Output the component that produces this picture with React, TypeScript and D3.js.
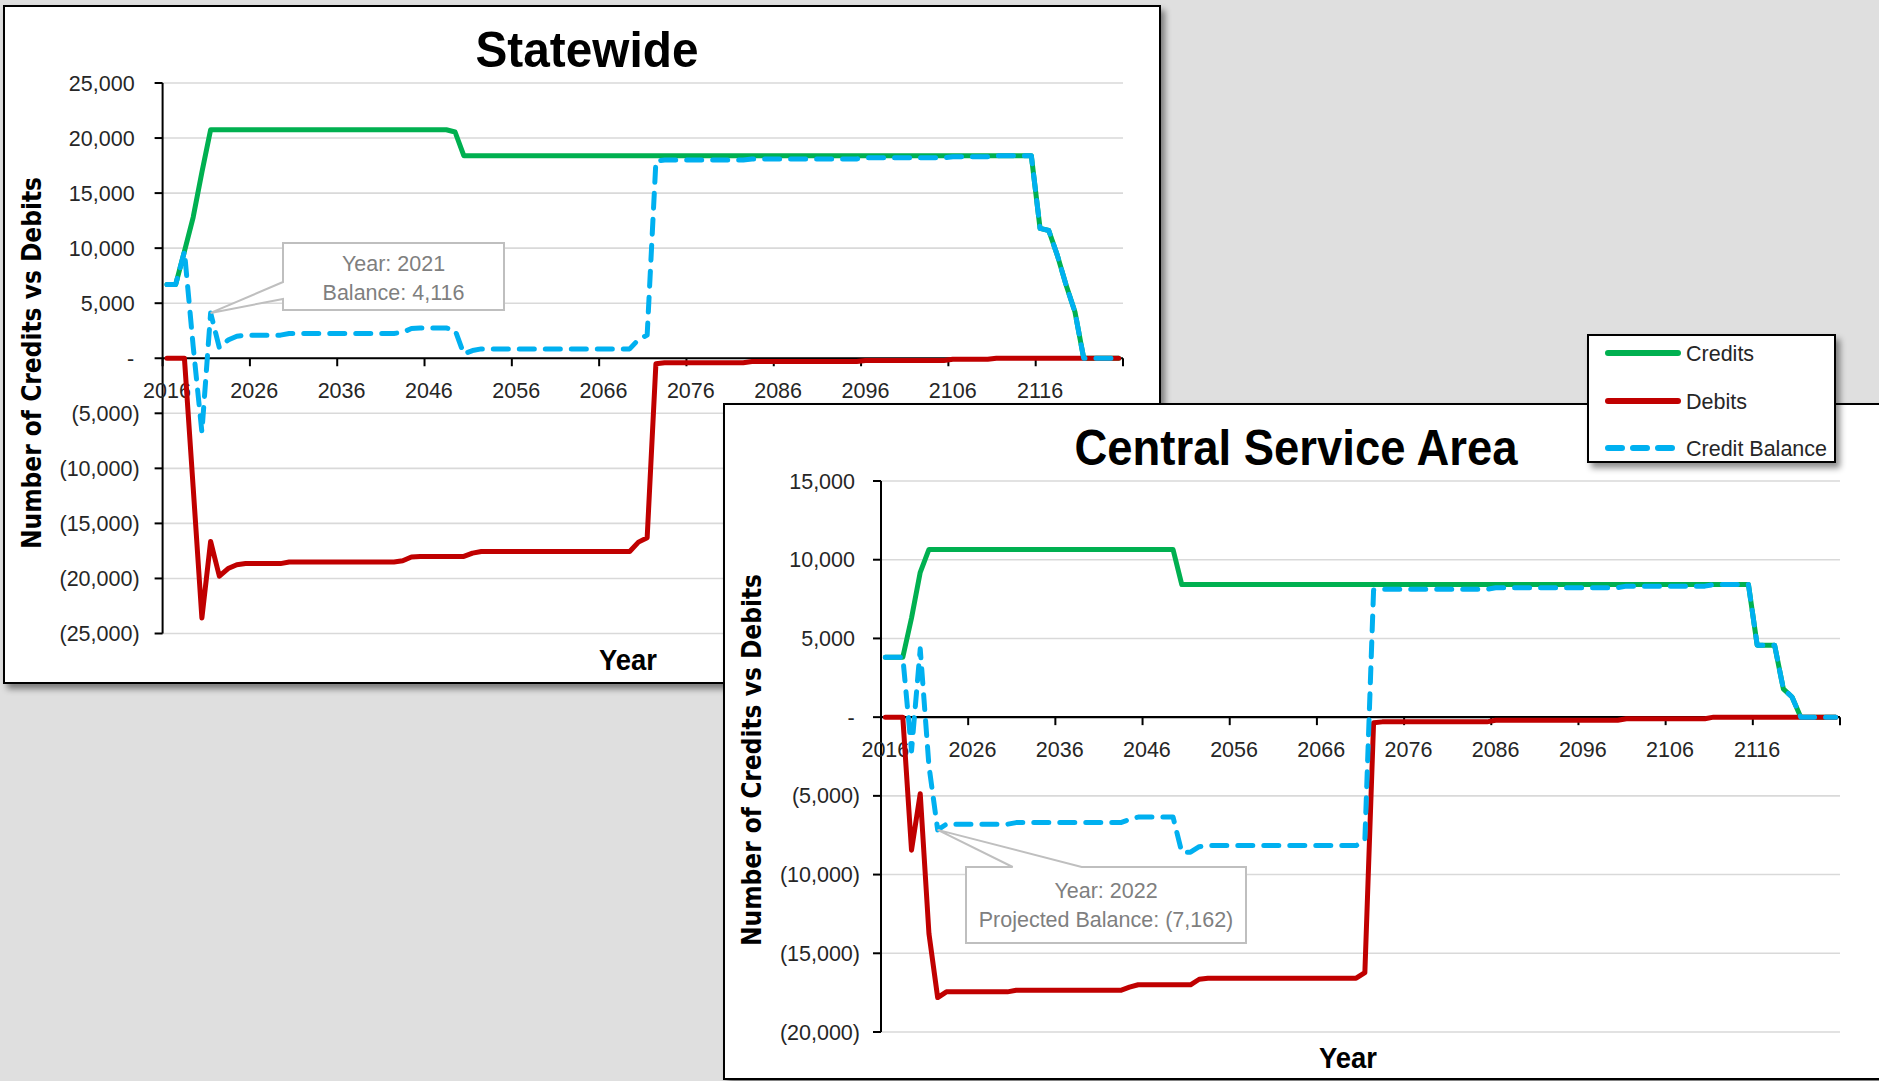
import React from 'react';
import * as d3 from 'd3';

// ---------- data ----------
const FIRST_YEAR = 2016;
const LAST_YEAR = 2125;
const YEARS = d3.range(FIRST_YEAR, LAST_YEAR + 1);
const X_TICK_YEARS = [2016, 2026, 2036, 2046, 2056, 2066, 2076, 2086, 2096, 2106, 2116];
const SW_Y_TICKS = [25000, 20000, 15000, 10000, 5000, 0, -5000, -10000, -15000, -20000, -25000];
const CS_Y_TICKS = [15000, 10000, 5000, 0, -5000, -10000, -15000, -20000];
const SERIES_NAMES = ['Credits', 'Debits', 'Credit Balance'];
const SERIES_COLORS = ['#00b050', '#c00000', '#00b0f0'];

// Statewide
const SW_CREDITS = [
  6700, 6700, 9700, 12800, 16900, 20750, 20750, 20750, 20750, 20750,
  20750, 20750, 20750, 20750, 20750, 20750, 20750, 20750, 20750, 20750,
  20750, 20750, 20750, 20750, 20750, 20750, 20750, 20750, 20750, 20750,
  20750, 20750, 20750, 20550, 18400, 18400, 18400, 18400, 18400, 18400,
  18400, 18400, 18400, 18400, 18400, 18400, 18400, 18400, 18400, 18400,
  18400, 18400, 18400, 18400, 18400, 18400, 18400, 18400, 18400, 18400,
  18400, 18400, 18400, 18400, 18400, 18400, 18400, 18400, 18400, 18400,
  18400, 18400, 18400, 18400, 18400, 18400, 18400, 18400, 18400, 18400,
  18400, 18400, 18400, 18400, 18400, 18400, 18400, 18400, 18400, 18400,
  18400, 18400, 18400, 18400, 18400, 18400, 18400, 18400, 18400, 18400,
  11800, 11600, 9300, 6600, 4200, 0, 0, 0, 0, 0,
];
const SW_DEBITS = [
  0, 0, 0, -11700, -23600, -16634, -19800, -19100, -18750, -18650,
  -18650, -18650, -18650, -18650, -18500, -18500, -18500, -18500, -18500, -18500,
  -18500, -18500, -18500, -18500, -18500, -18500, -18500, -18400, -18050, -18000,
  -18000, -18000, -18000, -18000, -18000, -17700, -17550, -17550, -17550, -17550,
  -17550, -17550, -17550, -17550, -17550, -17550, -17550, -17550, -17550, -17550,
  -17550, -17550, -17550, -17550, -16700, -16300, -500, -400, -400, -400,
  -400, -400, -400, -400, -400, -400, -400, -300, -300, -300,
  -300, -300, -300, -300, -300, -300, -300, -300, -300, -300,
  -200, -200, -200, -200, -200, -200, -200, -200, -200, -200,
  -100, -100, -100, -100, -100, 0, 0, 0, 0, 0,
  0, 0, 0, 0, 0, 0, 0, 0, 0, 0,
];
const SW_BALANCE = [
  6700, 6700, 9700, 1100, -6700, 4116, 950, 1650, 2000, 2100,
  2100, 2100, 2100, 2100, 2250, 2250, 2250, 2250, 2250, 2250,
  2250, 2250, 2250, 2250, 2250, 2250, 2250, 2350, 2700, 2750,
  2750, 2750, 2750, 2550, 400, 700, 850, 850, 850, 850,
  850, 850, 850, 850, 850, 850, 850, 850, 850, 850,
  850, 850, 850, 850, 1700, 2100, 17900, 18000, 18000, 18000,
  18000, 18000, 18000, 18000, 18000, 18000, 18000, 18100, 18100, 18100,
  18100, 18100, 18100, 18100, 18100, 18100, 18100, 18100, 18100, 18100,
  18200, 18200, 18200, 18200, 18200, 18200, 18200, 18200, 18200, 18200,
  18300, 18300, 18300, 18300, 18300, 18400, 18400, 18400, 18400, 18400,
  11800, 11600, 9300, 6600, 4200, 0, 0, 0, 0, 0,
];

// Central Service Area
const CS_CREDITS = [
  3800, 3800, 3800, 6300, 9200, 10650, 10650, 10650, 10650, 10650,
  10650, 10650, 10650, 10650, 10650, 10650, 10650, 10650, 10650, 10650,
  10650, 10650, 10650, 10650, 10650, 10650, 10650, 10650, 10650, 10650,
  10650, 10650, 10650, 10650, 8420, 8420, 8420, 8420, 8420, 8420,
  8420, 8420, 8420, 8420, 8420, 8420, 8420, 8420, 8420, 8420,
  8420, 8420, 8420, 8420, 8420, 8420, 8420, 8420, 8420, 8420,
  8420, 8420, 8420, 8420, 8420, 8420, 8420, 8420, 8420, 8420,
  8420, 8420, 8420, 8420, 8420, 8420, 8420, 8420, 8420, 8420,
  8420, 8420, 8420, 8420, 8420, 8420, 8420, 8420, 8420, 8420,
  8420, 8420, 8420, 8420, 8420, 8420, 8420, 8420, 8420, 8420,
  4570, 4570, 4570, 1800, 1280, 0, 0, 0, 0, 0,
];
const CS_DEBITS = [
  0, 0, 0, -8450, -4860, -13750, -17812, -17450, -17450, -17450,
  -17450, -17450, -17450, -17450, -17450, -17350, -17350, -17350, -17350, -17350,
  -17350, -17350, -17350, -17350, -17350, -17350, -17350, -17350, -17150, -17000,
  -17000, -17000, -17000, -17000, -17000, -17000, -16650, -16580, -16580, -16580,
  -16580, -16580, -16580, -16580, -16580, -16580, -16580, -16580, -16580, -16580,
  -16580, -16580, -16580, -16580, -16580, -16230, -350, -300, -300, -300,
  -300, -300, -300, -300, -300, -300, -300, -300, -300, -300,
  -200, -200, -200, -200, -200, -200, -200, -200, -200, -200,
  -200, -200, -200, -200, -200, -100, -100, -100, -100, -100,
  -100, -100, -100, -100, -100, 0, 0, 0, 0, 0,
  0, 0, 0, 0, 0, 0, 0, 0, 0, 0,
];
const CS_BALANCE = [
  3800, 3800, 3800, -2150, 4340, -3100, -7162, -6800, -6800, -6800,
  -6800, -6800, -6800, -6800, -6800, -6700, -6700, -6700, -6700, -6700,
  -6700, -6700, -6700, -6700, -6700, -6700, -6700, -6700, -6500, -6350,
  -6350, -6350, -6350, -6350, -8580, -8580, -8230, -8160, -8160, -8160,
  -8160, -8160, -8160, -8160, -8160, -8160, -8160, -8160, -8160, -8160,
  -8160, -8160, -8160, -8160, -8160, -7810, 8070, 8120, 8120, 8120,
  8120, 8120, 8120, 8120, 8120, 8120, 8120, 8120, 8120, 8120,
  8220, 8220, 8220, 8220, 8220, 8220, 8220, 8220, 8220, 8220,
  8220, 8220, 8220, 8220, 8220, 8320, 8320, 8320, 8320, 8320,
  8320, 8320, 8320, 8320, 8320, 8420, 8420, 8420, 8420, 8420,
  4570, 4570, 4570, 1800, 1280, 0, 0, 0, 0, 0,
];

// ---------- helpers ----------
const TICK_FONT = "'Liberation Sans', Arial, sans-serif";
const TITLE_FONT = "'Liberation Sans', Arial, sans-serif";
const YTITLE_FONT = "'DejaVu Sans', Verdana, sans-serif";

function fmtY(v: number): string {
  if (v === 0) return '-';
  const s = d3.format(',')(Math.abs(v));
  return v < 0 ? `(${s})` : s;
}

type Callout = {
  year: number;
  value: number;
  lines: string[];
  box: { x: number; y: number; w: number; h: number };
  wedge: 'left' | 'top';
  wedgeA: number;
  wedgeB: number;
  lineY: number[];
};

type Cfg = {
  panel: { x: number; y: number; w: number; h: number };
  x0: number;
  x1: number;
  yTop: number;
  yBot: number;
  yDomain: [number, number];
  yTicks: number[];
  title: string;
  titleX: number;
  titleY: number;
  titleLen: number;
  yTitleX: number;
  yTitleY: number;
  xTitleX: number;
  xTitleY: number;
  posOff: number;
  negOff: number;
  dashOff: number;
  series: number[][];
  callout: Callout;
};

function Chart({ cfg }: { cfg: Cfg }) {
  const x = d3.scaleLinear().domain([FIRST_YEAR - 0.5, LAST_YEAR + 0.5]).range([cfg.x0, cfg.x1]);
  const y = d3.scaleLinear().domain(cfg.yDomain).range([cfg.yBot, cfg.yTop]);
  const y0 = y(0);
  const line = d3
    .line<number>()
    .x((_, i) => x(YEARS[i]))
    .y((d) => y(d));
  const boundaries = d3.range(FIRST_YEAR - 0.5, LAST_YEAR + 1, 10);
  const p = cfg.panel;
  const c = cfg.callout;
  const px = x(c.year);
  const py = y(c.value);
  const b = c.box;
  let calloutPath = '';
  if (c.wedge === 'left') {
    calloutPath = `M${b.x},${b.y}H${b.x + b.w}V${b.y + b.h}H${b.x}V${c.wedgeB}L${px},${py}L${b.x},${c.wedgeA}Z`;
  } else {
    calloutPath = `M${b.x},${b.y}H${c.wedgeA}L${px},${py}L${c.wedgeB},${b.y}H${b.x + b.w}V${b.y + b.h}H${b.x}Z`;
  }
  return (
    <g>
      <rect x={p.x} y={p.y} width={p.w} height={p.h} fill="#ffffff" stroke="#000" strokeWidth={2} filter="url(#shadow)" />
      <text
        x={cfg.titleX}
        y={cfg.titleY}
        textAnchor="middle"
        fontFamily={TITLE_FONT}
        fontWeight="bold"
        fontSize={50}
        textLength={cfg.titleLen}
        lengthAdjust="spacingAndGlyphs"
        fill="#000"
      >
        {cfg.title}
      </text>
      {/* gridlines */}
      {cfg.yTicks.map((t) => (
        <line key={'g' + t} x1={cfg.x0} x2={cfg.x1} y1={y(t)} y2={y(t)} stroke="#d9d9d9" strokeWidth={1.6} />
      ))}
      {/* y axis */}
      <line x1={cfg.x0} x2={cfg.x0} y1={cfg.yTop} y2={cfg.yBot} stroke="#000" strokeWidth={2} />
      {cfg.yTicks.map((t) => (
        <line key={'yt' + t} x1={cfg.x0 - 8} x2={cfg.x0} y1={y(t)} y2={y(t)} stroke="#000" strokeWidth={2} />
      ))}
      {/* x axis */}
      <line x1={cfg.x0} x2={cfg.x1} y1={y0} y2={y0} stroke="#000" strokeWidth={2.2} />
      {boundaries.map((bd) => (
        <line key={'xt' + bd} x1={x(bd)} x2={x(bd)} y1={y0} y2={y0 + 8} stroke="#000" strokeWidth={2} />
      ))}
      {/* y labels */}
      {cfg.yTicks.map((t) => (
        <text
          key={'yl' + t}
          x={t === 0 ? cfg.x0 - cfg.dashOff : t > 0 ? cfg.x0 - cfg.posOff : cfg.x0 - cfg.negOff}
          y={y(t) + 7.5}
          textAnchor={t === 0 ? 'middle' : 'end'}
          fontFamily={TICK_FONT}
          fontSize={21.5}
          fill="#262626"
        >
          {fmtY(t)}
        </text>
      ))}
      {/* x labels */}
      {X_TICK_YEARS.map((yr) => (
        <text
          key={'xl' + yr}
          x={x(yr)}
          y={y0 + 39.5}
          textAnchor="middle"
          fontFamily={TICK_FONT}
          fontSize={21.5}
          fill="#262626"
        >
          {yr}
        </text>
      ))}
      {/* series */}
      {cfg.series.map((s, i) => (
        <path
          key={'s' + i}
          d={line(s) || ''}
          fill="none"
          stroke={SERIES_COLORS[i]}
          strokeWidth={5}
          strokeLinejoin="round"
          strokeLinecap="round"
          strokeDasharray={i === 2 ? '15 11' : undefined}
        />
      ))}
      {/* callout */}
      <path d={calloutPath} fill="#ffffff" stroke="#bfbfbf" strokeWidth={2} />
      {c.lines.map((t, i) => (
        <text
          key={'cl' + i}
          x={b.x + b.w / 2}
          y={c.lineY[i] + 7.5}
          textAnchor="middle"
          fontFamily={TICK_FONT}
          fontSize={21.5}
          fill="#7f7f7f"
        >
          {t}
        </text>
      ))}
      {/* axis titles */}
      <text
        transform={`translate(${cfg.yTitleX},${cfg.yTitleY}) rotate(-90)`}
        textAnchor="middle"
        fontFamily={YTITLE_FONT}
        fontWeight="bold"
        fontSize={26}
        textLength={372}
        lengthAdjust="spacingAndGlyphs"
        fill="#000"
      >
        Number of Credits vs Debits
      </text>
      <text
        x={cfg.xTitleX}
        y={cfg.xTitleY}
        textAnchor="middle"
        fontFamily={TITLE_FONT}
        fontWeight="bold"
        fontSize={30}
        textLength={58}
        lengthAdjust="spacingAndGlyphs"
        fill="#000"
      >
        Year
      </text>
    </g>
  );
}

const SW_CFG: Cfg = {
  panel: { x: 4, y: 6, w: 1156, h: 677 },
  x0: 162.6,
  x1: 1123,
  yTop: 83,
  yBot: 633.5,
  yDomain: [-25000, 25000],
  yTicks: SW_Y_TICKS,
  title: 'Statewide',
  titleX: 587,
  titleY: 67,
  titleLen: 223,
  yTitleX: 41,
  yTitleY: 363,
  xTitleX: 628,
  xTitleY: 670,
  posOff: 28,
  negOff: 23,
  dashOff: 32,
  series: [SW_CREDITS, SW_DEBITS, SW_BALANCE],
  callout: {
    year: 2021,
    value: 4116,
    lines: ['Year: 2021', 'Balance: 4,116'],
    box: { x: 283, y: 243, w: 221, h: 67 },
    wedge: 'left',
    wedgeA: 282,
    wedgeB: 299,
    lineY: [263, 292],
  },
};

const CS_CFG: Cfg = {
  panel: { x: 724, y: 404, w: 1170, h: 675 },
  x0: 881,
  x1: 1840,
  yTop: 481,
  yBot: 1032,
  yDomain: [-20000, 15000],
  yTicks: CS_Y_TICKS,
  title: 'Central Service Area',
  titleX: 1296,
  titleY: 465,
  titleLen: 443,
  yTitleX: 761,
  yTitleY: 760,
  xTitleX: 1348,
  xTitleY: 1068,
  posOff: 26,
  negOff: 21,
  dashOff: 30,
  series: [CS_CREDITS, CS_DEBITS, CS_BALANCE],
  callout: {
    year: 2022,
    value: -7162,
    lines: ['Year: 2022', 'Projected Balance: (7,162)'],
    box: { x: 966, y: 867, w: 280, h: 76 },
    wedge: 'top',
    wedgeA: 1012.7,
    wedgeB: 1081.7,
    lineY: [890, 919],
  },
};

function Legend() {
  const lx = 1588;
  const ly = 335;
  const itemY = [353, 401, 448];
  return (
    <g>
      <rect x={lx} y={ly} width={247} height={127} fill="#ffffff" stroke="#000" strokeWidth={2} filter="url(#shadow)" />
      {SERIES_NAMES.map((n, i) => (
        <g key={n}>
          <line
            x1={1608}
            x2={1678}
            y1={itemY[i]}
            y2={itemY[i]}
            stroke={SERIES_COLORS[i]}
            strokeWidth={6}
            strokeLinecap="round"
            strokeDasharray={i === 2 ? '14 11' : undefined}
          />
          <text x={1686} y={itemY[i] + 7.5} fontFamily={TICK_FONT} fontSize={21.5} fill="#262626">
            {n}
          </text>
        </g>
      ))}
    </g>
  );
}

export default function App() {
  return (
    <svg
      width={1879}
      height={1081}
      viewBox="0 0 1879 1081"
      style={{ position: 'absolute', left: 0, top: 0, display: 'block' }}
    >
      <defs>
        <filter id="shadow" x="-5%" y="-5%" width="115%" height="120%">
          <feDropShadow dx="4" dy="5" stdDeviation="3" floodColor="#000" floodOpacity="0.45" />
        </filter>
      </defs>
      <rect x={0} y={0} width={1879} height={1081} fill="#dfdfdf" />
      <Chart cfg={SW_CFG} />
      <Chart cfg={CS_CFG} />
      <Legend />
    </svg>
  );
}
